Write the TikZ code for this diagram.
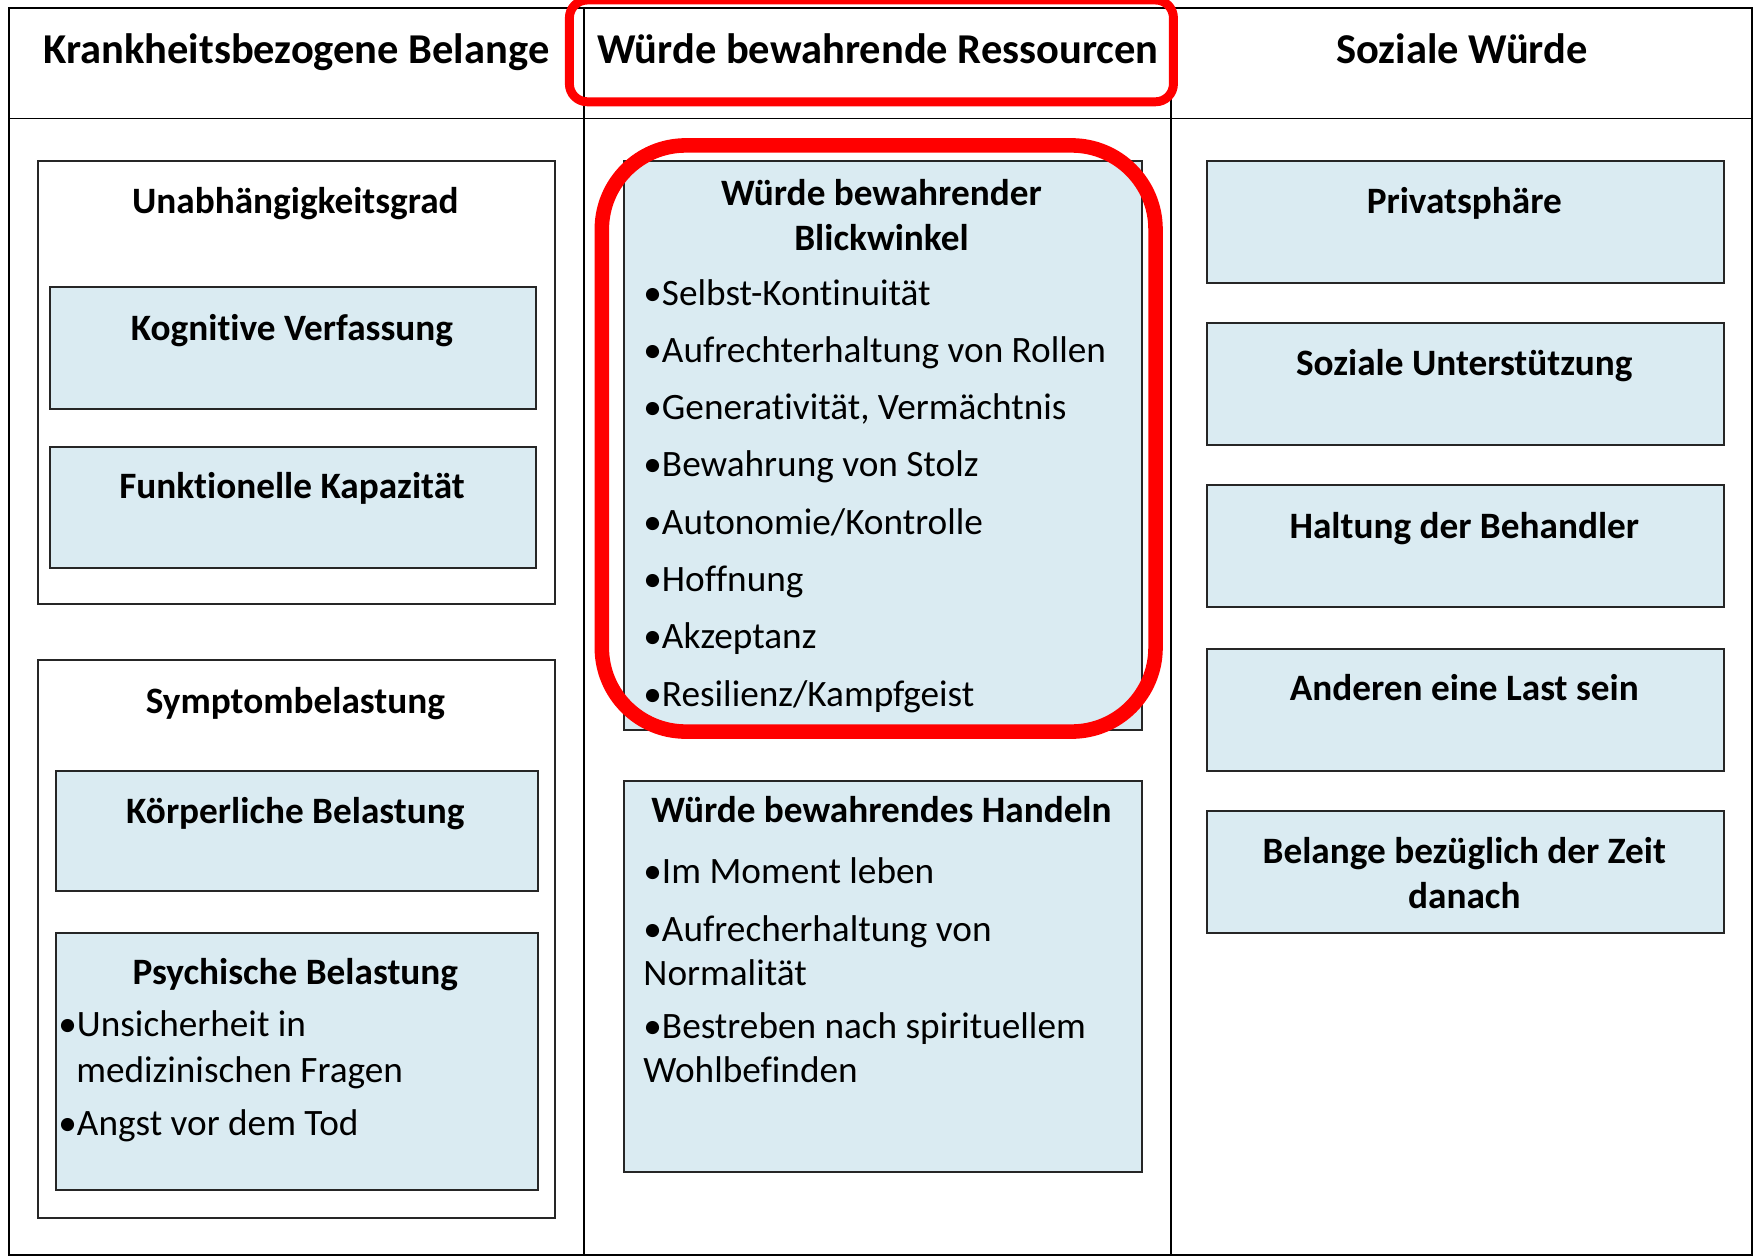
\documentclass[tikz,border=0pt]{standalone}
\usepackage{fontspec}
\setmainfont{Carlito}[Ligatures={NoCommon}]
\definecolor{lb}{RGB}{218,235,242}
\begin{document}
\begin{tikzpicture}[x=1pt,y=-1pt,
  tline/.style={draw=black, line width=1.5pt},
  obox/.style={draw=black!85, line width=1.8pt, fill=white, anchor=north west, inner sep=0pt},
  bbox/.style={draw=black!85, line width=1.8pt, fill=lb, anchor=north west, inner sep=0pt},
  head/.style={font=\fontsize{38}{44}\selectfont\bfseries, anchor=base, inner sep=0pt},
  ttl/.style={font=\fontsize{33.3}{40}\selectfont\bfseries, anchor=base, inner sep=0pt},
  itm/.style={font=\fontsize{33.3}{40}\selectfont, anchor=base west, inner sep=0pt},
  redframe/.style={draw=red, line join=round}]
\useasboundingbox (0,0) rectangle (1568,1124);
% table
\draw[tline] (8,7) rectangle (1566,1122);
\draw[tline] (8,106) -- (1566,106);
\draw[tline] (522,7) -- (522,1122);
\draw[tline] (1047,7) -- (1047,1122);
% headers
\node[head] (h1) at (265,57) {Krankheitsbezogene Belange};
\node[head] (h2) at (785,57) {Würde bewahrende Ressourcen};
\node[head] (h3) at (1307,57) {Soziale Würde};
% left column
\node[obox, minimum width=462, minimum height=396] (ua) at (33,143) {};
\node[ttl] (uat) at (264,191) {Unabhängigkeitsgrad};
\node[bbox, minimum width=434, minimum height=109] (kog) at (44,256) {};
\node[ttl] (kogt) at (261,304) {Kognitive Verfassung};
\node[bbox, minimum width=434, minimum height=108] (fun) at (44,399) {};
\node[ttl] (funt) at (261,446) {Funktionelle Kapazität};
\node[obox, minimum width=462, minimum height=499] (sym) at (33,589) {};
\node[ttl] (symt) at (264,638) {Symptombelastung};
\node[bbox, minimum width=431, minimum height=108] (koe) at (49,688) {};
\node[ttl] (koet) at (264,736) {Körperliche Belastung};
\node[bbox, minimum width=431, minimum height=230] (psy) at (49,833) {};
\node[ttl] (psyt) at (264,880) {Psychische Belastung};
\node[itm] (p1) at (52,927) {•Unsicherheit in};
\node[itm] (p2) at (68,968) {medizinischen Fragen};
\node[itm] (p3) at (52,1015) {•Angst vor dem Tod};
% middle column
\node[bbox, minimum width=463, minimum height=509] (bl) at (557,143) {};
\node[ttl] (blt1) at (788,184) {Würde bewahrender};
\node[ttl] (blt2) at (788,224) {Blickwinkel};
\node[itm] (b1) at (575,273) {•Selbst-Kontinuität};
\node[itm] (b2) at (575,324) {•Aufrechterhaltung von Rollen};
\node[itm] (b3) at (575,375) {•Generativität, Vermächtnis};
\node[itm] (b4) at (575,426) {•Bewahrung von Stolz};
\node[itm] (b5) at (575,478) {•Autonomie/Kontrolle};
\node[itm] (b6) at (575,529) {•Hoffnung};
\node[itm] (b7) at (575,580) {•Akzeptanz};
\node[itm] (b8) at (575,632) {•Resilienz/Kampfgeist};
\node[bbox, minimum width=463, minimum height=350] (ha) at (557,697) {};
\node[ttl] (hat) at (788,735) {Würde bewahrendes Handeln};
\node[itm] (a1) at (575,790) {•Im Moment leben};
\node[itm] (a2) at (575,842) {•Aufrecherhaltung von};
\node[itm] (a3) at (575,881) {Normalität};
\node[itm] (a4) at (575,928) {•Bestreben nach spirituellem};
\node[itm] (a5) at (575,968) {Wohlbefinden};
% right column
\node[bbox, minimum width=462, minimum height=109] (pr) at (1078,143) {};
\node[ttl] (prt) at (1309,191) {Privatsphäre};
\node[bbox, minimum width=462, minimum height=109] (su) at (1078,288) {};
\node[ttl] (sut) at (1309,336) {Soziale Unterstützung};
\node[bbox, minimum width=462, minimum height=109] (hb) at (1078,433) {};
\node[ttl] (hbt) at (1309,481) {Haltung der Behandler};
\node[bbox, minimum width=462, minimum height=109] (al) at (1078,579) {};
\node[ttl] (alt) at (1309,626) {Anderen eine Last sein};
\node[bbox, minimum width=462, minimum height=109] (bz) at (1078,724) {};
\node[ttl] (bzt1) at (1309,772) {Belange bezüglich der Zeit};
\node[ttl] (bzt2) at (1309,812) {danach};
% red highlights
\draw[redframe, line width=8pt, rounded corners=16pt] (509,0) rectangle (1049,91);
\draw[redframe, line width=13pt, rounded corners=75pt] (538,130) rectangle (1033,654);
\end{tikzpicture}
\end{document}
